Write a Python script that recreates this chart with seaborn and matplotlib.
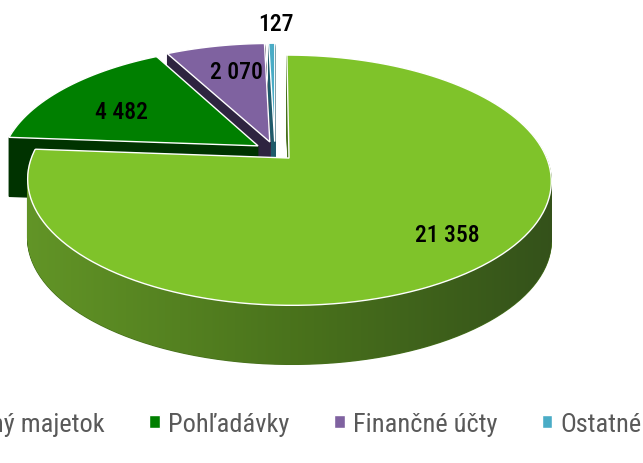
import matplotlib
matplotlib.use("Agg")
import matplotlib.pyplot as plt
import matplotlib.transforms as mtransforms
from matplotlib.path import Path
from matplotlib.colors import LinearSegmentedColormap
import numpy as np
import seaborn as sns

sns.set_theme(style="white")
plt.rcParams["font.family"] = ["Liberation Sans Narrow", "Roboto Condensed",
                               "DejaVu Sans Condensed", "Roboto", "DejaVu Sans"]

# ---- data ----
categories = ["Neobežný majetok", "Pohľadávky", "Finančné účty", "Ostatné"]
values = [21358, 4482, 2070, 127]

# ---- style ----
top_colors = ["#7fc32a", "#007f00", "#7f62a0", "#4aacc6"]
side_colors = ["#47711d", "#003300", "#2e2440", "#1f5a6a"]
explode = [0.08, 0.08, 0.08, 0.08]
label_r = [0.79, 0.65, 0.70, 1.25]
label_dang = [1, 5, -2.5, -1]


class Perspective(mtransforms.Transform):
    """Tilted-disc (3D look) projection of the pie plane, output in pixels."""
    input_dims = output_dims = 2
    is_separable = False
    has_inverse = False

    def __init__(self, sx, sy, c):
        super().__init__()
        self.sx, self.sy, self.c = sx, sy, c

    def transform_non_affine(self, xy):
        xy = np.asarray(xy, float).reshape(-1, 2)
        d = 1.0 + self.c * xy[:, 1]
        return np.column_stack([self.sx * xy[:, 0] / d, self.sy * xy[:, 1] / d])

    def transform_path_non_affine(self, path):
        k = 1000.0
        polys = path.to_polygons(transform=mtransforms.Affine2D().scale(k),
                                 closed_only=True)
        verts, codes = [], []
        for p in polys:
            p = np.asarray(p) / k
            verts.append(self.transform_non_affine(p))
            c = np.full(len(p), Path.LINETO, dtype=Path.code_type)
            c[0] = Path.MOVETO
            codes.append(c)
        return Path(np.concatenate(verts), np.concatenate(codes))


W, H = 643, 464
apex_x, apex_y = 275, 152          # pie centre in image pixels
persp = Perspective(255.0, 118.7, 0.1755)
depth_px = 59

fig = plt.figure(figsize=(W / 100, H / 100), dpi=100)
ax = fig.add_axes([0, 0, 1, 1])

side_layers = []
for k in range(depth_px, 0, -1):
    ws, _ = ax.pie(values, explode=explode, startangle=90, counterclock=False,
                   colors=side_colors, wedgeprops=dict(linewidth=1.0))
    tr = persp + mtransforms.Affine2D().translate(0, -k) + ax.transData
    for p in ws:
        p.set_transform(tr)
        p.set_edgecolor(p.get_facecolor())
    side_layers.append(ws[0])

top_tr = persp + ax.transData
wedges, _ = ax.pie(values, explode=explode, startangle=90, counterclock=False,
                   colors=top_colors,
                   wedgeprops=dict(linewidth=1.0, edgecolor="white"))
for w in wedges:
    w.set_transform(top_tr)
    w.set_zorder(2)

for w, v, r, da in zip(wedges, values, label_r, label_dang):
    mid = np.deg2rad((w.theta1 + w.theta2) / 2 + da)
    cx, cy = w.center
    ax.text(cx + r * np.cos(mid), cy + r * np.sin(mid),
            f"{v:,}".replace(",", " "), ha="center", va="center",
            transform=top_tr, fontsize=17, color="black",
            fontweight="medium", zorder=10)

# axes in pixel units, origin at the pie centre
ax.set_aspect("auto")
ax.set_xlim(-apex_x, W - apex_x)
ax.set_ylim(-(H - apex_y), apex_y)
ax.axis("off")

# horizontal shading on the side of the big slice
clip_path = Path.make_compound_path(*[
    w.get_transform().transform_path(w.get_path()) for w in side_layers])
grad = np.linspace(0, 1, 256).reshape(1, -1)
cmap = LinearSegmentedColormap.from_list("side", ["#639627", "#4a731c", "#33501a"])
im = ax.imshow(grad, cmap=cmap, extent=(-260, 290, -240, 40),
               aspect="auto", zorder=1.5)
im.set_clip_path(clip_path, mtransforms.IdentityTransform())
ax.set_xlim(-apex_x, W - apex_x)
ax.set_ylim(-(H - apex_y), apex_y)

fig.legend(handles=wedges, labels=categories, loc="center",
           bbox_to_anchor=(0.416, 0.084), ncol=4, frameon=False,
           fontsize=19, handlelength=0.4, handleheight=0.4,
           handletextpad=0.3, columnspacing=1.7, labelcolor="#595959")

fig.savefig("out.png", dpi=100)
